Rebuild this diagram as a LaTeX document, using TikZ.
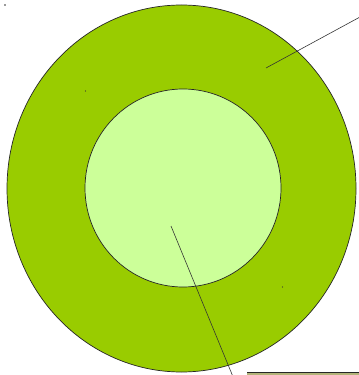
\documentclass[tikz,border=0pt]{standalone}
\begin{document}
\begin{tikzpicture}[x=0.03cm,y=-0.03cm,
  ring/.style={draw=black!85, line width=0.6pt},
  leader/.style={draw=black!80, line width=0.5pt},
  speck/.style={fill=black!80}]
\definecolor{outergreen}{RGB}{153,204,0}
\definecolor{innergreen}{RGB}{204,255,153}
\definecolor{olivebar}{RGB}{128,128,32}
\useasboundingbox (0,0) rectangle (358,375);
\fill[white] (0,0) rectangle (358,375);
% outer ring
\draw[ring, fill=outergreen] (181.5,188.5) ellipse [x radius=174.5, y radius=183.5];
% inner disc
\draw[ring, fill=innergreen] (183,188) ellipse [x radius=98, y radius=99];
% leader lines
\coordinate (a1) at (266,68);
\coordinate (a2) at (360,17);
\coordinate (b1) at (171,226);
\coordinate (b2) at (233.5,378);
\draw[leader] (a1) -- (a2);
\draw[leader] (b1) -- (b2);
% bottom bar edge
\fill[olivebar!60] (247,372.5) rectangle (360,378);
\draw[black!85, line width=0.6pt] (247,372.5) -- (360,372.5);
% specks
\fill[speck] (5,5) circle (0.8);
\fill[speck] (85.5,91) circle (0.6);
\fill[speck] (282.5,287) circle (0.6);
\end{tikzpicture}
\end{document}
